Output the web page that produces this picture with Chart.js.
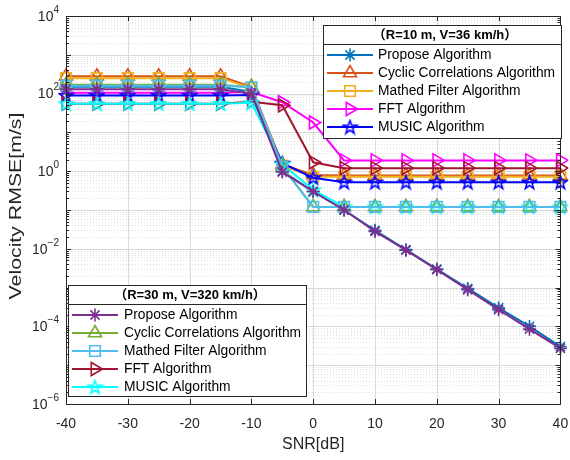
<!DOCTYPE html>
<html>
<head>
<meta charset="utf-8">
<script src="https://cdn.jsdelivr.net/npm/chart.js@4.4.1/dist/chart.umd.min.js"></script>
<style>
  html, body { margin: 0; padding: 0; background: #fff; }
</style>
</head>
<body>
<canvas id="c" width="570" height="460"></canvas>
<script>
const snr = [-40, -35, -30, -25, -20, -15, -10, -5, 0, 5, 10, 15, 20, 25, 30, 35, 40];

// R=10 m, V=36 km/h
const proposeA = [150, 150, 150, 150, 150, 150, 110, 1.0, 0.3, 0.1, 0.03, 0.0095, 0.003, 0.00095, 0.0003, 0.0001, 0.00003];
const cyclicA  = [280, 280, 280, 280, 280, 280, 150, 1.5, 0.8, 0.78, 0.78, 0.78, 0.78, 0.78, 0.78, 0.78, 0.78];
const mathedA  = [250, 250, 250, 250, 250, 250, 140, 1.4, 0.72, 0.72, 0.72, 0.72, 0.72, 0.72, 0.72, 0.72, 0.72];
const fftA     = [105, 105, 105, 105, 105, 105, 110, 60, 18, 1.9, 1.9, 1.9, 1.9, 1.9, 1.9, 1.9, 1.9];
const musicA   = [90, 90, 90, 90, 90, 90, 92, 1.6, 0.68, 0.52, 0.52, 0.52, 0.52, 0.52, 0.52, 0.52, 0.52];

// R=30 m, V=320 km/h
const proposeB = [130, 130, 130, 130, 130, 130, 100, 0.95, 0.3, 0.1, 0.028, 0.0092, 0.0029, 0.00088, 0.00027, 0.000085, 0.000027];
const cyclicB  = [170, 170, 170, 170, 170, 170, 145, 1.3, 0.12, 0.12, 0.12, 0.12, 0.12, 0.12, 0.12, 0.12, 0.12];
const mathedB  = [160, 160, 160, 160, 160, 160, 145, 1.3, 0.12, 0.12, 0.12, 0.12, 0.12, 0.12, 0.12, 0.12, 0.12];
const fftB     = [55, 55, 55, 55, 55, 55, 62, 50, 1.7, 1.2, 1.2, 1.2, 1.2, 1.2, 1.2, 1.2, 1.2];
const musicB   = [55, 55, 55, 55, 55, 55, 58, 1.5, 0.33, 0.12, 0.12, 0.12, 0.12, 0.12, 0.12, 0.12, 0.12];

const xTicks = [-40, -30, -20, -10, 0, 10, 20, 30, 40];
const yDecades = [-6, -5, -4, -3, -2, -1, 0, 1, 2, 3, 4];
const legendTitleA = "（R=10 m, V=36 km/h）";
const legendTitleB = "（R=30 m, V=320 km/h）";
const yTitle = "Velocity RMSE[m/s]";

const FONT = "'Liberation Sans', Arial, 'Noto Sans CJK SC', sans-serif";
const AXIS = "#262626";

// MATLAB style pentagram marker
function pentagram(color) {
    const c = document.createElement("canvas");
    c.width = c.height = 17;
    const g = c.getContext("2d");
    g.strokeStyle = color;
    g.lineWidth = 1.6;
    g.beginPath();
    for (let i = 0; i < 10; i++) {
        const r = i % 2 ? 2.8 : 7;
        const a = -Math.PI / 2 + i * Math.PI / 5;
        const px = 8.5 + r * Math.cos(a), py = 9 + r * Math.sin(a);
        if (i) g.lineTo(px, py); else g.moveTo(px, py);
    }
    g.closePath();
    g.stroke();
    return c;
}

const markers = {
    star: { pointStyle: "star", pointRadius: 6.5, pointRotation: 0 },
    tri: { pointStyle: "triangle", pointRadius: 7.5, pointRotation: 0 },
    sq: { pointStyle: "rect", pointRadius: 7.5, pointRotation: 0 },
    right: { pointStyle: "triangle", pointRadius: 7.5, pointRotation: 90 }
};

function series(label, data, color, m, group, paint) {
    const mk = typeof m === "string" ? markers[m] : { pointStyle: m, pointRadius: 8, pointRotation: 0 };
    return {
        label, group,
        data: snr.map((x, i) => ({ x, y: data[i] })),
        borderColor: color,
        backgroundColor: "rgba(0,0,0,0)",
        pointBorderColor: color,
        pointBackgroundColor: "rgba(0,0,0,0)",
        borderWidth: 2,
        pointBorderWidth: 1.6,
        pointStyle: mk.pointStyle,
        pointRadius: mk.pointRadius,
        pointRotation: mk.pointRotation,
        tension: 0,
        clip: 8,
        order: 20 - paint
    };
}

const datasets = [
    series("Propose Algorithm", proposeA, "#0072BD", "star", "A", 1),
    series("Cyclic Correlations Algorithm", cyclicA, "#D95319", "tri", "A", 2),
    series("Mathed Filter Algorithm", mathedA, "#EDB120", "sq", "A", 3),
    series("FFT Algorithm", fftA, "#FF00FF", "right", "A", 4),
    series("MUSIC Algorithm", musicA, "#0000FF", pentagram("#0000FF"), "A", 5),
    series("Propose Algorithm", proposeB, "#7E2F8E", "star", "B", 10),
    series("Cyclic Correlations Algorithm", cyclicB, "#77AC30", "tri", "B", 8),
    series("Mathed Filter Algorithm", mathedB, "#4DBEEE", "sq", "B", 9),
    series("FFT Algorithm", fftB, "#A2142F", "right", "B", 6),
    series("MUSIC Algorithm", musicB, "#00FFFF", pentagram("#00FFFF"), "B", 7)
];

function line(ctx, x1, y1, x2, y2) {
    ctx.beginPath();
    ctx.moveTo(x1, y1);
    ctx.lineTo(x2, y2);
    ctx.stroke();
}

const gridPlugin = {
    id: "matlabGrid",
    beforeDatasetsDraw(chart) {
        const { ctx, chartArea: a, scales: { x, y } } = chart;
        ctx.save();
        ctx.lineWidth = 1;
        ctx.strokeStyle = "#e0e0e0";
        ctx.setLineDash([1, 2]);
        yDecades.slice(0, -1).forEach(k => {
            for (let m = 2; m <= 9; m++) {
                const py = Math.round(y.getPixelForValue(m * Math.pow(10, k))) + 0.5;
                line(ctx, a.left, py, a.right, py);
            }
        });
        ctx.setLineDash([]);
        ctx.strokeStyle = "#dadada";
        yDecades.forEach(k => {
            const py = Math.round(y.getPixelForValue(Math.pow(10, k))) + 0.5;
            line(ctx, a.left, py, a.right, py);
        });
        xTicks.forEach(v => {
            const px = Math.round(x.getPixelForValue(v)) + 0.5;
            line(ctx, px, a.top, px, a.bottom);
        });
        ctx.restore();
    },
    afterDatasetsDraw(chart) {
        const { ctx, chartArea: a, scales: { x, y } } = chart;
        ctx.save();
        ctx.strokeStyle = AXIS;
        ctx.lineWidth = 1;
        // inward ticks on all four sides
        yDecades.forEach(k => {
            const py = Math.round(y.getPixelForValue(Math.pow(10, k))) + 0.5;
            line(ctx, a.left, py, a.left + 5, py);
            line(ctx, a.right - 5, py, a.right, py);
            if (k < 4) {
                for (let m = 2; m <= 9; m++) {
                    const q = Math.round(y.getPixelForValue(m * Math.pow(10, k))) + 0.5;
                    line(ctx, a.left, q, a.left + 3, q);
                    line(ctx, a.right - 3, q, a.right, q);
                }
            }
        });
        xTicks.forEach(v => {
            const px = Math.round(x.getPixelForValue(v)) + 0.5;
            line(ctx, px, a.bottom, px, a.bottom - 5);
            line(ctx, px, a.top, px, a.top + 5);
        });
        ctx.strokeRect(Math.round(a.left) + 0.5, Math.round(a.top) + 0.5, Math.round(a.right - a.left), Math.round(a.bottom - a.top));

        // y tick labels as 10 with a raised exponent
        ctx.fillStyle = AXIS;
        ctx.textBaseline = "middle";
        ctx.textAlign = "right";
        y.ticks.forEach(t => {
            const e = Math.round(Math.log10(t.value));
            if (e % 2 !== 0) return;
            const py = y.getPixelForValue(t.value);
            const ex = String(e).replace("-", "\u2212");
            ctx.font = "10px " + FONT;
            const w = ctx.measureText(ex).width;
            ctx.fillText(ex, 59, py - 6);
            ctx.font = "14px " + FONT;
            ctx.fillText("10", 59 - w, py + 1);
        });

        // y axis title, stretched along its length like the reference
        ctx.save();
        ctx.translate(17, 206);
        ctx.rotate(-Math.PI / 2);
        ctx.scale(1.33, 1);
        ctx.textAlign = "center";
        ctx.font = "16px " + FONT;
        ctx.fillText(yTitle, 0, 0);
        ctx.restore();
        ctx.restore();
    },
    afterDraw(chart) {
        drawLegend(chart, "A", legendTitleA, 323, 25, 238, 113, 19, 55, 18.1, 327, 373, 378);
        drawLegend(chart, "B", legendTitleB, 68, 285, 238, 111, 19, 314.5, 18.2, 72, 118, 124);
    }
};

function drawLegend(chart, group, title, bx, by, bw, bh, th, y0, dy, l1, l2, tx) {
    const ctx = chart.ctx;
    ctx.save();
    ctx.fillStyle = "#fff";
    ctx.fillRect(bx, by, bw, bh);
    ctx.strokeStyle = AXIS;
    ctx.lineWidth = 1;
    ctx.strokeRect(bx + 0.5, by + 0.5, bw, bh);
    line(ctx, bx, by + th + 0.5, bx + bw, by + th + 0.5);
    ctx.fillStyle = "#000";
    ctx.font = "bold 13px " + FONT;
    ctx.textAlign = "center";
    ctx.textBaseline = "middle";
    ctx.fillText(title, bx + bw / 2 + 3, by + th / 2 + 1);
    ctx.font = "13.8px " + FONT;
    ctx.textAlign = "left";
    chart.data.datasets.filter(d => d.group === group).forEach((d, i) => {
        const yy = Math.round(y0 + i * dy);
        ctx.strokeStyle = d.borderColor;
        ctx.lineWidth = 2;
        line(ctx, l1, yy, l2, yy);
        ctx.lineWidth = d.pointBorderWidth;
        ctx.fillStyle = "rgba(0,0,0,0)";
        Chart.helpers.drawPoint(ctx, {
            pointStyle: d.pointStyle, radius: d.pointRadius, rotation: d.pointRotation, borderWidth: d.pointBorderWidth
        }, (l1 + l2) / 2, yy);
        ctx.fillStyle = "#000";
        ctx.fillText(d.label, tx, yy + 0.5);
    });
    ctx.restore();
}

new Chart(document.getElementById("c"), {
    type: "line",
    data: { datasets },
    options: {
        responsive: false,
        animation: false,
        devicePixelRatio: 1,
        layout: { padding: { left: 0, right: 4, top: 16, bottom: 0 } },
        plugins: { legend: { display: false }, tooltip: { enabled: false } },
        scales: {
            x: {
                type: "linear", min: -40, max: 40,
                grid: { display: false }, border: { display: false },
                ticks: { stepSize: 10, padding: 4, color: AXIS, font: { family: FONT, size: 14 }, callback: v => String(v) },
                title: { display: true, text: "SNR[dB]", color: AXIS, font: { family: FONT, size: 16 }, padding: { top: 0, bottom: 6 } },
                afterFit: s => { s.height = 56; s.paddingLeft = 0; s.paddingRight = 0; }
            },
            y: {
                type: "logarithmic", min: 1e-6, max: 1e4,
                grid: { display: false }, border: { display: false },
                afterBuildTicks: s => { s.ticks = yDecades.map(k => ({ value: Math.pow(10, k) })); },
                ticks: { display: false, autoSkip: false },
                afterFit: s => { s.width = 66; s.paddingTop = 0; s.paddingBottom = 0; }
            }
        }
    },
    plugins: [gridPlugin]
});
</script>
</body>
</html>
